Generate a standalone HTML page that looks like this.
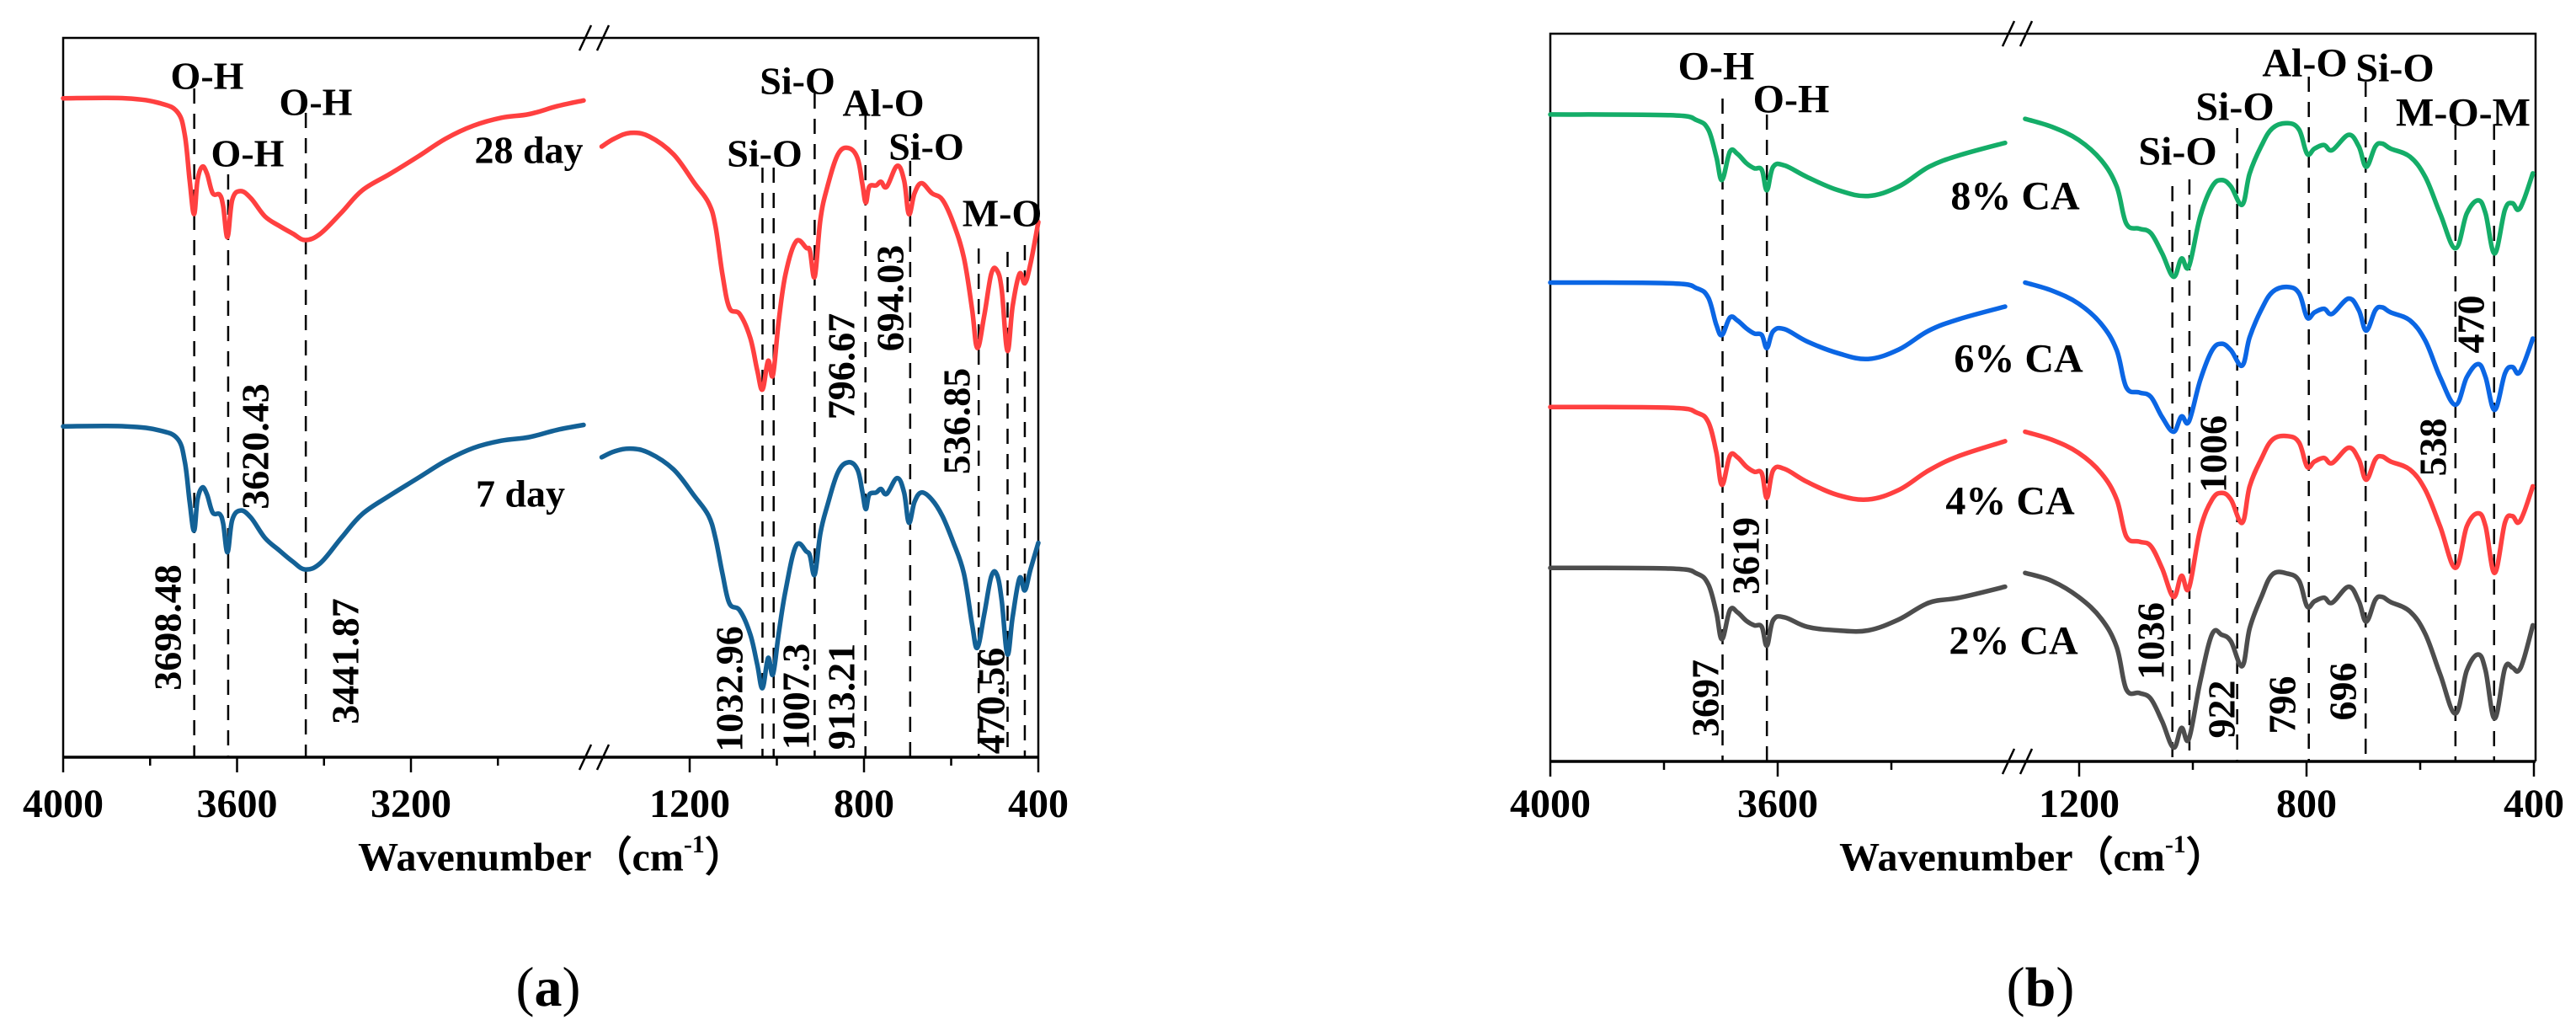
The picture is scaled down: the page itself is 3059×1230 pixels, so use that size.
<!DOCTYPE html>
<html><head><meta charset="utf-8"><style>
html,body{margin:0;padding:0;background:#fff;}
svg{display:block;font-family:"Liberation Serif","DejaVu Serif",serif;}
</style></head><body>
<svg id="fig" width="3059" height="1230" viewBox="0 0 3059 1230" xmlns="http://www.w3.org/2000/svg">
<rect width="3059" height="1230" fill="#fff"/>
<g id="pa"></g>
<g id="pb"></g>
</svg>
<script>
// ---------- Panel (a) data ----------
const aWnLeft = [4000,3856,3776,3736,3720,3709,3699,3691,3680,3669,3656,3640,3632,3622,3611,3592,3568,3536,3504,3472,3443,3408,3360,3312,3248,3184,3120,3056,2992,2928,2864,2803];
const a28Left = [91.6,91.6,90.9,89.6,86.4,80.2,75.5,80.2,82.1,81.1,78.4,78.2,76.6,72.3,77.5,78.7,77.7,75.2,73.9,72.8,71.9,72.8,75.7,78.8,81.1,83.5,86.0,87.8,88.9,89.4,90.5,91.3];
const a7Left = [46.0,46.0,45.4,44.2,41.0,35.5,31.5,35.8,37.5,36.5,34.0,33.8,32.5,28.5,33.0,34.3,33.3,30.5,28.8,27.2,26.1,27.0,30.5,33.8,36.4,38.8,41.2,43.0,44.0,44.5,45.5,46.2];
const aWnRight = [1402,1373,1336,1293,1237,1189,1157,1141,1125,1109,1085,1061,1045,1033,1020,1009,996,980,956,932,924,913,900,884,860,836,815,804,796,788,772,761,748,724,708,697,684,668,644,620,596,571,552,540,524,508,495,484,471,459,443,431,418,400];
const a28Right = [84.9,86.0,86.8,86.3,83.8,79.8,77.1,73.9,67.2,62.5,61.6,58.3,53.8,51.1,55.1,53.1,60.5,67.2,71.7,70.8,70.4,66.8,74.8,79.3,83.8,84.7,83.3,79.8,77.1,79.3,79.5,80.0,79.3,82.2,80.2,75.5,78.4,79.8,78.4,77.5,74.4,69.5,62.3,56.9,61.4,67.2,67.7,65.0,56.5,62.7,67.2,65.9,68.6,74.4];
const a7Right = [41.7,42.5,42.9,42.3,40.0,36.3,33.6,30.5,25.6,21.4,20.4,17.1,12.9,9.6,13.8,11.5,17.1,23.2,29.4,28.6,28.0,25.4,31.2,35.0,39.6,41.0,40.0,37.0,34.5,36.5,36.8,37.3,36.6,38.8,36.8,32.6,35.5,36.8,35.8,33.5,30.0,25.6,18.5,15.2,19.9,25.1,25.4,21.8,14.3,19.5,24.9,23.2,26.1,29.8];
const aPeaks = [3698.48,3620.43,3441.87,1032.96,1007.3,913.21,796.67,694.03,536.85,470.56,431];
const aPeakTop = [105,207,134,199,199,111,136,191,295,299,291];
const aTicksMajor = [4000,3600,3200,1200,800,400];
const aTicksMinor = [3800,3400,3000,1000,600];

// ---------- Panel (b) data ----------
const bWnLeft = [4000,3789,3742,3722,3708,3698,3684,3671,3655,3641,3628,3619,3608,3588,3548,3494,3441,3387,3334,3280,3200];
const b8Left = [88.9,88.8,88.1,86.8,83.1,79.9,83.8,83.5,82.2,81.5,81.3,78.5,81.7,81.9,80.3,78.5,77.7,79.0,81.7,83.3,85.0];
const b6Left = [65.8,65.7,65.0,63.7,60.0,58.6,61.0,60.6,59.5,58.8,58.6,56.8,59.1,59.4,57.7,56.1,55.3,56.6,59.2,60.8,62.5];
const b4Left = [48.7,48.6,47.9,46.6,42.5,38.0,42.0,41.8,40.5,39.8,39.6,36.2,40.0,40.2,38.4,36.6,36.0,37.3,40.0,42.0,44.0];
const b2Left = [26.6,26.5,25.8,24.3,20.5,16.8,20.8,20.5,19.3,18.7,18.5,15.9,19.4,19.8,18.5,18.0,18.0,19.5,21.8,22.5,24.0];
const bWnRight = [1295,1248,1201,1161,1134,1117,1094,1074,1054,1034,1020,1007,987,966,949,933,913,900,880,860,833,813,799,786,769,755,726,708,695,679,667,652,618,591,565,538,518,498,485,469,451,438,428,418,402];
const b8Right = [88.3,87.2,85.4,82.6,79.0,73.9,73.2,72.6,69.8,66.6,69.1,68.0,74.9,79.0,79.9,79.0,76.5,80.8,84.5,87.0,87.7,86.8,83.5,84.2,84.7,84.0,86.1,84.5,81.7,84.5,84.9,84.2,83.1,80.3,75.3,70.5,75.3,77.1,75.3,69.8,75.8,76.7,75.8,77.1,80.8];
const b6Right = [65.8,64.7,62.9,60.1,56.5,51.4,50.7,50.1,47.3,45.3,47.4,46.7,52.4,56.5,57.4,56.5,54.4,58.3,62.0,64.5,65.2,64.3,61.0,61.7,62.2,61.5,63.6,62.0,59.2,62.0,62.4,61.7,60.6,57.8,52.8,49.0,52.8,54.6,52.8,48.3,53.3,54.2,53.3,54.6,58.1];
const b4Right = [45.3,44.2,42.4,39.6,36.0,30.9,30.2,29.6,26.5,22.6,25.5,23.8,31.9,36.0,36.9,36.0,32.8,37.8,41.5,44.2,44.7,43.8,40.5,41.2,41.7,41.0,43.1,41.5,38.7,41.5,41.9,41.2,40.1,37.3,32.3,26.6,32.3,34.1,32.3,25.9,32.8,33.7,32.8,34.1,37.8];
const b2Right = [25.9,24.8,22.6,19.6,15.7,9.9,9.4,8.6,5.5,1.9,4.6,3.1,11.0,17.5,17.4,16.5,13.1,18.3,22.5,25.7,25.8,24.8,21.3,22.0,22.5,21.8,24.0,22.0,19.2,22.2,22.6,21.9,20.6,17.5,12.0,6.6,12.5,14.7,12.5,5.9,12.8,12.9,12.4,14.0,18.7];
const bPeaks = [3697,3619,1036,1006,922,796,696,538,470];
const bPeakTop = [117,136,221,213,152,91,97,148,148];
const bTicksMajor = [4000,3600,1200,800,400];
const bTicksMinor = [3800,3400,1000,600];

const NS = "http://www.w3.org/2000/svg";
function mk(tag, attrs, parent, text){
  const e = document.createElementNS(NS, tag);
  for (const k in attrs) e.setAttribute(k, attrs[k]);
  if (text !== undefined) e.textContent = text;
  parent.appendChild(e);
  return e;
}
function xa(w){ return w >= 2000 ? 75 + (4000 - w) * 206.5 / 400 : 819 + (1200 - w) * 414 / 800; }
function ya(v){ return 899 - v * 8.54; }
function xb(w){ return w >= 2000 ? 1841 + (4000 - w) * 0.675 : 2469 + (1200 - w) * 0.675; }
function yb(v){ return 904 - v * 8.64; }

function drawFrame(g, L, R, T, B, brk, xf, major, minor){
  const f = mk('path', {d:`M${L},${B} L${L},${T} L${R},${T} L${R},${B}`, fill:'none', stroke:'#000', 'stroke-width':2.5}, g);
  
  
  const ax = mk('line', {x1:L, y1:B, x2:R, y2:B, stroke:'#000', 'stroke-width':3.5}, g);
  
  
  for (const yy of [T, B]){
    const bm = mk('path', {d:`M${brk-15},${yy+15} L${brk-1},${yy-15} M${brk+6},${yy+15} L${brk+20},${yy-15}`, stroke:'#000', 'stroke-width':2.5, fill:'none'}, g);
    
    
  }
  major.forEach(w => {
    const t = mk('line', {x1:xf(w), y1:B, x2:xf(w), y2:B+18, stroke:'#000', 'stroke-width':2.5}, g);
    
    
    const tl = mk('text', {x:xf(w), y:970, 'font-size':48, 'font-weight':'bold', 'text-anchor':'middle'}, g, String(w));
    
    
  });
  minor.forEach(w => {
    const t = mk('line', {x1:xf(w), y1:B, x2:xf(w), y2:B+10, stroke:'#000', 'stroke-width':2.5}, g);
    
    
  });
}
function drawDashes(g, peaks, tops, xf, B){
  peaks.forEach((w, i) => {
    const d = mk('line', {x1:xf(w), y1:tops[i], x2:xf(w), y2:B, stroke:'#000', 'stroke-width':2.5, 'stroke-dasharray':'18 12'}, g);
    
    
  });
}
function smoothPath(P){
  let d = `M${P[0][0].toFixed(1)},${P[0][1].toFixed(1)}`;
  for (let i = 0; i < P.length - 1; i++){
    const p0 = P[Math.max(0, i-1)], p1 = P[i], p2 = P[i+1], p3 = P[Math.min(P.length-1, i+2)];
    const t = 0.18;
    const c1 = [p1[0] + (p2[0]-p0[0])*t, p1[1] + (p2[1]-p0[1])*t];
    const c2 = [p2[0] - (p3[0]-p1[0])*t, p2[1] - (p3[1]-p1[1])*t];
    d += ` C${c1[0].toFixed(1)},${c1[1].toFixed(1)} ${c2[0].toFixed(1)},${c2[1].toFixed(1)} ${p2[0].toFixed(1)},${p2[1].toFixed(1)}`;
  }
  return d;
}
function drawSeries(g, wn, vals, xf, yf, color, name){
  const P = wn.map((w, i) => [xf(w), yf(vals[i])]);
  const p = mk('path', {d:smoothPath(P), fill:'none', stroke:color, 'stroke-width':5.5, 'stroke-linejoin':'round', 'stroke-linecap':'round'}, g);
  
  
}
function label(g, x, y, txt, size, name){
  const t = mk('text', {x:x, y:y, 'font-size':size, 'font-weight':'bold', 'text-anchor':'middle', 'dominant-baseline':'central'}, g, txt);
  
  
  return t;
}
function vlabel(g, x, y, txt, name){
  const t = mk('text', {x:0, y:0, 'font-size':46, 'font-weight':'bold', 'text-anchor':'middle', 'dominant-baseline':'central', transform:`translate(${x},${y}) rotate(-90)`}, g, txt);
  
  
}
function axisTitle(g, x){
  const t = mk('text', {x:x, y:1018, 'font-size':48, 'font-weight':'bold', 'text-anchor':'middle', 'dominant-baseline':'central'}, g);
  
  
  t.appendChild(document.createTextNode('Wavenumber（cm'));
  mk('tspan', {'font-size':30, dy:-16}, t, '-1');
  mk('tspan', {dy:16}, t, '）');
}
function panelLetter(g, x, letter){
  const t = mk('text', {x:x, y:1172, 'font-size':66, 'text-anchor':'middle', 'dominant-baseline':'central'}, g);
  
  
  t.appendChild(document.createTextNode('('));
  mk('tspan', {'font-weight':'bold'}, t, letter);
  t.appendChild(document.createTextNode(')'));
}

// ---------- Panel (a) ----------
const pa = document.getElementById('pa');
drawFrame(pa, 75, 1233, 45, 899, 703, xa, aTicksMajor, aTicksMinor);
drawDashes(pa, aPeaks, aPeakTop, xa, 899);
drawSeries(pa, aWnLeft, a28Left, xa, ya, '#ff4040', 'series-28-day-high');
drawSeries(pa, aWnRight, a28Right, xa, ya, '#ff4040', 'series-28-day-low');
drawSeries(pa, aWnLeft, a7Left, xa, ya, '#136196', 'series-7-day-high');
drawSeries(pa, aWnRight, a7Right, xa, ya, '#136196', 'series-7-day-low');
label(pa, 246, 90, 'O-H', 46, 'band-label');
label(pa, 294, 182, 'O-H', 46, 'band-label');
label(pa, 375, 121, 'O-H', 46, 'band-label');
label(pa, 628, 178, '28 day', 46, 'series-label-28-day');
label(pa, 618, 586, '7 day', 46, 'series-label-7-day');
label(pa, 947, 96, 'Si-O', 46, 'band-label');
label(pa, 1049, 122, 'Al-O', 46, 'band-label');
label(pa, 908, 182, 'Si-O', 46, 'band-label');
label(pa, 1100, 174, 'Si-O', 46, 'band-label');
label(pa, 1190, 253, 'M-O', 46, 'band-label');
vlabel(pa, 303, 530, '3620.43', 'peak-value-label');
vlabel(pa, 199, 745, '3698.48', 'peak-value-label');
vlabel(pa, 410, 785, '3441.87', 'peak-value-label');
vlabel(pa, 866, 818, '1032.96', 'peak-value-label');
vlabel(pa, 945, 827, '1007.3', 'peak-value-label');
vlabel(pa, 999, 827, '913.21', 'peak-value-label');
vlabel(pa, 1177, 832, '470.56', 'peak-value-label');
vlabel(pa, 999, 435, '796.67', 'peak-value-label');
vlabel(pa, 1057, 354, '694.03', 'peak-value-label');
vlabel(pa, 1136, 500, '536.85', 'peak-value-label');
axisTitle(pa, 655);
panelLetter(pa, 651, 'a');

// ---------- Panel (b) ----------
const pb = document.getElementById('pb');
drawFrame(pb, 1841, 3011, 40, 904, 2393, xb, bTicksMajor, bTicksMinor);
drawDashes(pb, bPeaks, bPeakTop, xb, 904);
drawSeries(pb, bWnLeft, b8Left, xb, yb, '#14ad68', 'series-8pct-ca-high');
drawSeries(pb, bWnRight, b8Right, xb, yb, '#14ad68', 'series-8pct-ca-low');
drawSeries(pb, bWnLeft, b6Left, xb, yb, '#0b66e4', 'series-6pct-ca-high');
drawSeries(pb, bWnRight, b6Right, xb, yb, '#0b66e4', 'series-6pct-ca-low');
drawSeries(pb, bWnLeft, b4Left, xb, yb, '#ff4040', 'series-4pct-ca-high');
drawSeries(pb, bWnRight, b4Right, xb, yb, '#ff4040', 'series-4pct-ca-low');
drawSeries(pb, bWnLeft, b2Left, xb, yb, '#4d4d4d', 'series-2pct-ca-high');
drawSeries(pb, bWnRight, b2Right, xb, yb, '#4d4d4d', 'series-2pct-ca-low');
label(pb, 2038, 79, 'O-H', 48, 'band-label');
label(pb, 2127, 118, 'O-H', 48, 'band-label');
label(pb, 2586, 180, 'Si-O', 48, 'band-label');
label(pb, 2654, 127, 'Si-O', 48, 'band-label');
label(pb, 2737, 75, 'Al-O', 48, 'band-label');
label(pb, 2844, 81, 'Si-O', 48, 'band-label');
label(pb, 2925, 134, 'M-O-M', 48, 'band-label');
label(pb, 2393, 233, '8% CA', 48, 'series-label-8pct');
label(pb, 2397, 426, '6% CA', 48, 'series-label-6pct');
label(pb, 2387, 595, '4% CA', 48, 'series-label-4pct');
label(pb, 2391, 761, '2% CA', 48, 'series-label-2pct');
vlabel(pb, 2073, 660, '3619', 'peak-value-label');
vlabel(pb, 2025, 829, '3697', 'peak-value-label');
vlabel(pb, 2554, 761, '1036', 'peak-value-label');
vlabel(pb, 2638, 842, '922', 'peak-value-label');
vlabel(pb, 2710, 837, '796', 'peak-value-label');
vlabel(pb, 2782, 821, '696', 'peak-value-label');
vlabel(pb, 2628, 539, '1006', 'peak-value-label');
vlabel(pb, 2889, 531, '538', 'peak-value-label');
vlabel(pb, 2934, 385, '470', 'peak-value-label');
axisTitle(pb, 2414);
panelLetter(pb, 2423, 'b');
</script>
</body></html>
